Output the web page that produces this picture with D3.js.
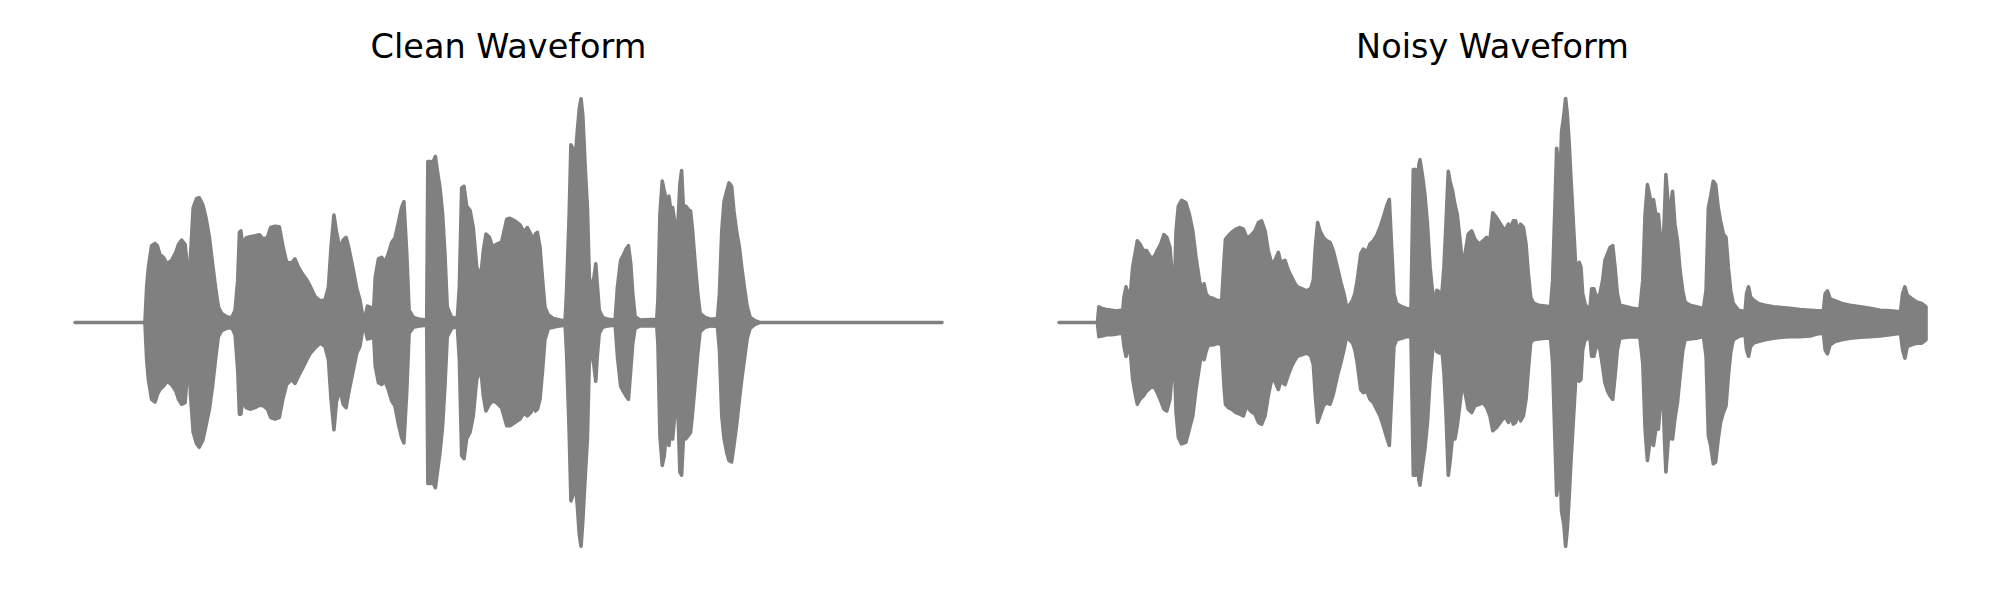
<!DOCTYPE html>
<html>
<head>
<meta charset="utf-8">
<script src="https://cdn.jsdelivr.net/npm/d3@7"></script>
<style>
  html, body { margin: 0; padding: 0; background: #ffffff; }
  svg { display: block; }
</style>
</head>
<body>
<svg id="chart" width="2000" height="600"></svg>
<script>
// ---------------- DATA ----------------
const titles = ["Clean Waveform", "Noisy Waveform"];
const duration = 3.0; // seconds shown on each time axis

// Clean waveform envelope: time (s), upper peak, lower peak (normalised amplitude)
const cleanTime = [0,0.242,0.248,0.254,0.265,0.277,0.285,0.294,0.306,0.319,0.334,0.349,0.358,0.369,0.381,0.389,0.394,0.400,0.409,0.421,0.430,0.442,0.453,0.465,0.476,0.486,0.496,0.507,0.525,0.542,0.554,0.563,0.569,0.574,0.580,0.592,0.606,0.623,0.638,0.652,0.666,0.677,0.692,0.707,0.719,0.732,0.750,0.761,0.773,0.788,0.802,0.815,0.830,0.848,0.865,0.877,0.886,0.896,0.905,0.917,0.928,0.938,0.947,0.961,0.975,0.986,0.995,1.002,1.012,1.023,1.032,1.039,1.050,1.061,1.073,1.084,1.096,1.107,1.119,1.130,1.138,1.148,1.156,1.171,1.194,1.217,1.221,1.231,1.235,1.240,1.247,1.254,1.263,1.272,1.280,1.288,1.303,1.323,1.330,1.338,1.346,1.355,1.367,1.378,1.390,1.404,1.413,1.422,1.434,1.445,1.459,1.476,1.494,1.505,1.522,1.540,1.554,1.565,1.577,1.586,1.593,1.600,1.609,1.618,1.626,1.638,1.655,1.678,1.696,1.701,1.710,1.716,1.722,1.730,1.738,1.745,1.751,1.757,1.765,1.773,1.780,1.788,1.796,1.802,1.807,1.814,1.826,1.845,1.869,1.877,1.888,1.897,1.907,1.915,1.923,1.930,1.938,1.955,2.013,2.017,2.024,2.032,2.039,2.047,2.055,2.062,2.068,2.076,2.082,2.088,2.093,2.099,2.105,2.113,2.122,2.130,2.137,2.145,2.155,2.163,2.180,2.203,2.223,2.230,2.238,2.246,2.255,2.263,2.272,2.280,2.289,2.299,2.307,2.316,2.326,2.336,2.353,2.370,3.000];
const cleanUpper = [0,0,0.159,0.247,0.343,0.353,0.343,0.303,0.291,0.262,0.277,0.313,0.348,0.368,0.348,0.247,0.129,0.306,0.513,0.554,0.557,0.527,0.468,0.380,0.262,0.159,0.070,0.041,0.026,0.020,0.055,0.188,0.402,0.409,0.348,0.377,0.383,0.387,0.392,0.372,0.380,0.424,0.430,0.427,0.343,0.269,0.265,0.284,0.247,0.215,0.191,0.159,0.117,0.097,0.100,0.159,0.336,0.480,0.402,0.328,0.368,0.380,0.336,0.247,0.151,0.100,0.033,0.014,0.073,0.067,0.023,0.203,0.284,0.291,0.269,0.306,0.358,0.377,0.446,0.513,0.539,0.306,0.055,0.023,0.014,0.011,0.719,0.719,0.018,0.719,0.741,0.675,0.601,0.483,0.306,0.070,0.023,0.018,0.159,0.601,0.608,0.520,0.501,0.424,0.247,0.203,0.321,0.395,0.380,0.336,0.350,0.358,0.461,0.465,0.454,0.436,0.402,0.424,0.395,0.358,0.395,0.402,0.336,0.188,0.070,0.033,0.018,0.011,0.008,0.144,0.483,0.793,0.778,0.719,0.852,0.955,0.999,0.926,0.704,0.513,0.188,0.166,0.203,0.262,0.173,0.055,0.023,0.014,0.011,0.159,0.277,0.299,0.328,0.343,0.262,0.129,0.026,0.011,0.014,0.100,0.483,0.631,0.586,0.542,0.564,0.498,0.513,0.439,0.365,0.483,0.616,0.678,0.513,0.520,0.505,0.498,0.409,0.277,0.129,0.041,0.023,0.014,0.018,0.129,0.409,0.542,0.586,0.623,0.608,0.498,0.409,0.336,0.247,0.159,0.070,0.023,0.008,0,0];
const cleanLower = [0,0,-0.166,-0.254,-0.343,-0.355,-0.321,-0.299,-0.284,-0.262,-0.277,-0.306,-0.343,-0.365,-0.358,-0.225,-0.151,-0.328,-0.490,-0.542,-0.557,-0.527,-0.461,-0.387,-0.284,-0.166,-0.063,-0.036,-0.026,-0.021,-0.055,-0.210,-0.409,-0.409,-0.343,-0.380,-0.387,-0.380,-0.369,-0.372,-0.387,-0.424,-0.431,-0.424,-0.343,-0.277,-0.254,-0.272,-0.240,-0.203,-0.166,-0.136,-0.114,-0.092,-0.107,-0.166,-0.343,-0.479,-0.350,-0.299,-0.365,-0.380,-0.313,-0.225,-0.136,-0.107,-0.033,-0.015,-0.074,-0.070,-0.026,-0.195,-0.269,-0.277,-0.262,-0.299,-0.350,-0.372,-0.453,-0.513,-0.538,-0.306,-0.048,-0.021,-0.015,-0.011,-0.719,-0.719,-0.018,-0.719,-0.738,-0.667,-0.579,-0.461,-0.284,-0.063,-0.026,-0.018,-0.166,-0.594,-0.608,-0.520,-0.490,-0.417,-0.254,-0.203,-0.328,-0.395,-0.365,-0.350,-0.358,-0.380,-0.461,-0.461,-0.446,-0.431,-0.402,-0.417,-0.402,-0.372,-0.395,-0.387,-0.343,-0.210,-0.077,-0.026,-0.021,-0.015,-0.011,-0.136,-0.490,-0.796,-0.774,-0.697,-0.815,-0.948,-0.999,-0.888,-0.697,-0.520,-0.151,-0.136,-0.195,-0.262,-0.151,-0.048,-0.021,-0.015,-0.011,-0.151,-0.284,-0.306,-0.328,-0.343,-0.210,-0.092,-0.026,-0.015,-0.014,-0.092,-0.505,-0.638,-0.594,-0.476,-0.549,-0.476,-0.520,-0.402,-0.269,-0.461,-0.667,-0.682,-0.520,-0.520,-0.505,-0.490,-0.402,-0.284,-0.136,-0.041,-0.021,-0.015,-0.018,-0.122,-0.417,-0.520,-0.579,-0.616,-0.623,-0.549,-0.461,-0.343,-0.254,-0.166,-0.070,-0.026,-0.008,0,0];

// Noisy waveform envelope: time (s), upper peak, lower peak (normalised amplitude)
const noisyTime = [0,0.133,0.138,0.148,0.165,0.182,0.200,0.215,0.219,0.225,0.232,0.238,0.243,0.249,0.255,0.263,0.271,0.280,0.292,0.303,0.317,0.329,0.340,0.352,0.363,0.373,0.384,0.393,0.399,0.405,0.413,0.424,0.439,0.451,0.463,0.474,0.486,0.494,0.502,0.509,0.517,0.534,0.551,0.563,0.571,0.576,0.586,0.597,0.612,0.626,0.638,0.649,0.663,0.678,0.690,0.701,0.713,0.724,0.736,0.747,0.759,0.767,0.782,0.794,0.805,0.817,0.825,0.840,0.857,0.871,0.880,0.887,0.895,0.903,0.915,0.926,0.938,0.949,0.963,0.975,0.986,0.995,1.005,1.016,1.024,1.032,1.044,1.053,1.065,1.076,1.088,1.099,1.111,1.122,1.134,1.143,1.151,1.159,1.168,1.186,1.203,1.218,1.226,1.235,1.240,1.245,1.249,1.258,1.266,1.275,1.284,1.293,1.301,1.307,1.316,1.324,1.332,1.339,1.347,1.353,1.362,1.370,1.378,1.388,1.397,1.405,1.416,1.428,1.439,1.454,1.468,1.480,1.491,1.501,1.514,1.543,1.555,1.563,1.572,1.580,1.589,1.597,1.607,1.616,1.624,1.632,1.641,1.659,1.682,1.701,1.708,1.716,1.722,1.728,1.734,1.739,1.747,1.753,1.759,1.765,1.772,1.780,1.788,1.794,1.800,1.806,1.812,1.820,1.832,1.837,1.843,1.851,1.860,1.872,1.881,1.889,1.898,1.907,1.916,1.924,1.932,1.941,1.964,1.987,2.010,2.020,2.028,2.036,2.043,2.051,2.057,2.065,2.074,2.082,2.089,2.095,2.100,2.108,2.116,2.123,2.131,2.140,2.149,2.158,2.166,2.183,2.206,2.230,2.239,2.247,2.255,2.264,2.272,2.281,2.289,2.299,2.308,2.316,2.324,2.333,2.351,2.374,2.379,2.386,2.393,2.403,2.420,2.443,2.472,2.501,2.529,2.564,2.599,2.622,2.645,2.651,2.659,2.668,2.685,2.708,2.737,2.772,2.806,2.841,2.875,2.912,2.919,2.927,2.935,2.950,2.968,2.985,3.000];
const noisyUpper = [0,0,0.070,0.063,0.058,0.055,0.051,0.055,0.033,0.114,0.159,0.129,0.100,0.159,0.247,0.306,0.365,0.350,0.321,0.321,0.291,0.291,0.321,0.350,0.392,0.380,0.336,0.188,0.129,0.409,0.520,0.545,0.535,0.483,0.409,0.291,0.188,0.144,0.173,0.129,0.114,0.107,0.097,0.100,0.277,0.372,0.387,0.402,0.417,0.424,0.417,0.380,0.387,0.409,0.446,0.454,0.409,0.321,0.262,0.277,0.313,0.269,0.277,0.232,0.203,0.173,0.159,0.151,0.141,0.151,0.188,0.336,0.446,0.409,0.380,0.365,0.358,0.321,0.247,0.181,0.129,0.070,0.077,0.100,0.129,0.188,0.306,0.328,0.313,0.350,0.365,0.387,0.424,0.468,0.520,0.549,0.336,0.129,0.085,0.070,0.063,0.058,0.683,0.683,0.055,0.704,0.726,0.653,0.572,0.439,0.247,0.129,0.100,0.144,0.136,0.114,0.247,0.439,0.675,0.631,0.586,0.527,0.483,0.365,0.247,0.306,0.395,0.409,0.372,0.350,0.365,0.380,0.365,0.490,0.468,0.409,0.439,0.424,0.454,0.454,0.395,0.439,0.424,0.350,0.218,0.114,0.088,0.077,0.073,0.070,0.188,0.513,0.778,0.704,0.645,0.852,0.926,1.000,0.926,0.808,0.631,0.439,0.247,0.159,0.269,0.247,0.129,0.085,0.055,0.055,0.151,0.151,0.107,0.129,0.188,0.277,0.306,0.336,0.343,0.247,0.129,0.077,0.070,0.063,0.058,0.188,0.483,0.616,0.572,0.513,0.549,0.483,0.483,0.365,0.306,0.483,0.660,0.527,0.513,0.586,0.439,0.365,0.232,0.144,0.092,0.077,0.070,0.063,0.144,0.513,0.564,0.631,0.616,0.513,0.454,0.395,0.380,0.247,0.144,0.085,0.055,0.048,0.129,0.159,0.114,0.100,0.085,0.077,0.070,0.067,0.063,0.058,0.055,0.052,0.052,0.129,0.141,0.107,0.097,0.085,0.077,0.070,0.063,0.055,0.052,0.048,0.129,0.159,0.122,0.107,0.092,0.085,0.070];
const noisyLower = [0,0,-0.063,-0.060,-0.055,-0.055,-0.051,-0.048,-0.041,-0.107,-0.151,-0.114,-0.092,-0.166,-0.254,-0.313,-0.365,-0.343,-0.328,-0.306,-0.291,-0.284,-0.313,-0.350,-0.387,-0.395,-0.343,-0.195,-0.151,-0.402,-0.513,-0.542,-0.535,-0.476,-0.417,-0.299,-0.195,-0.136,-0.166,-0.129,-0.100,-0.100,-0.092,-0.100,-0.284,-0.365,-0.380,-0.387,-0.402,-0.409,-0.417,-0.372,-0.395,-0.409,-0.446,-0.454,-0.417,-0.328,-0.254,-0.262,-0.299,-0.262,-0.277,-0.232,-0.195,-0.166,-0.151,-0.144,-0.136,-0.148,-0.188,-0.328,-0.446,-0.417,-0.372,-0.358,-0.365,-0.321,-0.240,-0.181,-0.122,-0.063,-0.077,-0.092,-0.122,-0.181,-0.299,-0.313,-0.306,-0.343,-0.358,-0.387,-0.417,-0.461,-0.513,-0.549,-0.328,-0.107,-0.077,-0.070,-0.063,-0.063,-0.682,-0.682,-0.063,-0.704,-0.726,-0.638,-0.564,-0.446,-0.254,-0.122,-0.092,-0.129,-0.136,-0.107,-0.225,-0.402,-0.682,-0.623,-0.505,-0.520,-0.461,-0.358,-0.254,-0.313,-0.387,-0.402,-0.372,-0.365,-0.358,-0.380,-0.417,-0.483,-0.468,-0.417,-0.446,-0.417,-0.454,-0.446,-0.402,-0.439,-0.417,-0.343,-0.210,-0.092,-0.077,-0.074,-0.070,-0.070,-0.181,-0.520,-0.771,-0.697,-0.638,-0.844,-0.903,-0.999,-0.918,-0.785,-0.608,-0.431,-0.254,-0.151,-0.262,-0.254,-0.122,-0.077,-0.070,-0.063,-0.151,-0.151,-0.092,-0.122,-0.195,-0.269,-0.306,-0.328,-0.343,-0.240,-0.122,-0.070,-0.066,-0.063,-0.066,-0.181,-0.476,-0.616,-0.549,-0.505,-0.549,-0.476,-0.476,-0.343,-0.269,-0.520,-0.667,-0.527,-0.513,-0.520,-0.431,-0.358,-0.240,-0.129,-0.077,-0.074,-0.070,-0.063,-0.151,-0.505,-0.549,-0.631,-0.623,-0.520,-0.446,-0.402,-0.372,-0.240,-0.136,-0.077,-0.063,-0.055,-0.122,-0.151,-0.107,-0.092,-0.085,-0.077,-0.070,-0.066,-0.063,-0.063,-0.060,-0.051,-0.048,-0.122,-0.140,-0.100,-0.085,-0.077,-0.070,-0.066,-0.063,-0.060,-0.055,-0.048,-0.122,-0.159,-0.107,-0.100,-0.092,-0.092,-0.077];

// ---------------- LAYOUT ----------------
const W = 2000, H = 600;
const waveColor = "#808080";
const lineWidth = 3.6;
const yCenter = 322.5, yHalf = 224;
const titleY = 58, titleSize = 33.5;

const panels = [
  { title: titles[0], time: cleanTime, upper: cleanUpper, lower: cleanLower, left: 75,   right: 942 },
  { title: titles[1], time: noisyTime, upper: noisyUpper, lower: noisyLower, left: 1059, right: 1926 }
];

const svg = d3.select("#chart").attr("width", W).attr("height", H);
svg.append("rect").attr("width", W).attr("height", H).attr("fill", "#ffffff");

const y = d3.scaleLinear().domain([-1, 1]).range([yCenter + yHalf, yCenter - yHalf]);

panels.forEach(p => {
  const x = d3.scaleLinear().domain([0, duration]).range([p.left, p.right]);
  const data = p.time.map((t, i) => ({ t: t, hi: p.upper[i], lo: p.lower[i] }));
  const area = d3.area()
    .x(d => x(d.t))
    .y0(d => y(d.lo))
    .y1(d => y(d.hi));

  const g = svg.append("g");
  g.append("path")
    .datum(data)
    .attr("d", area)
    .attr("fill", waveColor)
    .attr("stroke", waveColor)
    .attr("stroke-width", lineWidth)
    .attr("stroke-linejoin", "round");

  g.append("text")
    .attr("x", (x.range()[0] + x.range()[1]) / 2)
    .attr("y", titleY)
    .attr("text-anchor", "middle")
    .attr("font-family", "DejaVu Sans, sans-serif")
    .attr("font-size", titleSize)
    .attr("fill", "#000000")
    .text(p.title);
});
</script>
</body>
</html>
